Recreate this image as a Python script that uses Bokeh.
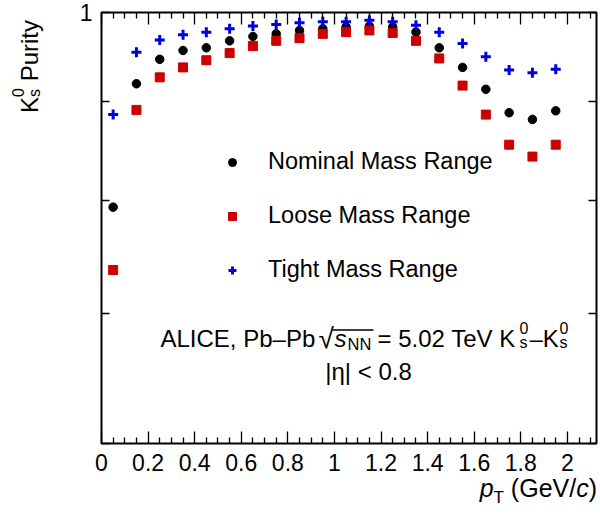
import math
from bokeh.plotting import figure
from bokeh.layouts import row, column
from bokeh.models import (Label, Legend, LegendItem, FixedTicker, LinearAxis, LogAxis,
                          CustomJSTickFormatter, Range1d, BoxAnnotation, Div)
from bokeh.embed import file_html
from bokeh.resources import INLINE

# ---------------- data ----------------
pt = [0.05, 0.15, 0.25, 0.35, 0.45, 0.55, 0.65, 0.75, 0.85, 0.95,
      1.05, 1.15, 1.25, 1.35, 1.45, 1.55, 1.65, 1.75, 1.85, 1.95]
nominal = [0.794, 0.919, 0.946, 0.956, 0.959, 0.967, 0.972, 0.975, 0.979, 0.981,
           0.983, 0.984, 0.983, 0.977, 0.959, 0.937, 0.913, 0.888, 0.881, 0.890]
loose = [0.737, 0.891, 0.926, 0.937, 0.945, 0.953, 0.961, 0.967, 0.970, 0.975,
         0.977, 0.979, 0.976, 0.967, 0.947, 0.917, 0.886, 0.855, 0.843, 0.855]
tight = [0.886, 0.954, 0.968, 0.974, 0.977, 0.981, 0.984, 0.986, 0.988, 0.989,
         0.989, 0.991, 0.989, 0.985, 0.977, 0.964, 0.949, 0.934, 0.931, 0.935]
series_names = ["Nominal Mass Range", "Loose Mass Range", "Tight Mass Range"]
x_major_ticks = [0, 0.2, 0.4, 0.6, 0.8, 1.0, 1.2, 1.4, 1.6, 1.8, 2.0]
x_minor_ticks = [round(0.05 * i, 2) for i in range(0, 43) if i % 4 != 0]
y_ticks = [0.6, 0.7, 0.8, 0.9, 1.0]

X0, X1 = 0.0, 2.125
Y0, Y1 = 0.6, 1.0

FONT = "Liberation Sans"

YDIV_W = 60
P_W, P_H = 600 - YDIV_W, 478
XDIV_H = 516 - P_H

p = figure(width=P_W, height=P_H, x_range=Range1d(X0, X1), y_range=Range1d(Y0, Y1),
           y_axis_type="log", output_backend="svg", toolbar_location=None,
           min_border_left=101 - YDIV_W, min_border_right=4, min_border_top=12,
           min_border_bottom=35)
p.background_fill_color = "white"
p.border_fill_color = "white"
p.outline_line_color = "black"
p.outline_line_width = 2
p.grid.visible = False

# frame geometry in page pixels (used only to place annotation texts)
FL, FR, FT, FB = 101.0, 596.0, 12.0, 443.0
LB = math.log10(Y0)


def X(px):
    return X0 + (px - FL) / (FR - FL) * (X1 - X0)


def Y(py):
    return 10 ** (LB * (py - FT) / (FB - FT))


xt = FixedTicker(ticks=x_major_ticks, minor_ticks=x_minor_ticks)
yt = FixedTicker(ticks=y_ticks, minor_ticks=[])
ylab = CustomJSTickFormatter(code="return Math.abs(tick - 1) < 1e-6 ? '1' : '';")
blank = CustomJSTickFormatter(code="return '';")


def style_axis(ax, major_len, minor_len, show_labels):
    ax.axis_line_color = None
    ax.major_tick_in = major_len
    ax.major_tick_out = 0
    ax.minor_tick_in = minor_len
    ax.minor_tick_out = 0
    ax.major_tick_line_width = 1.3
    ax.minor_tick_line_width = 1.3
    ax.major_label_text_font = FONT
    ax.major_label_text_font_size = "23px" if show_labels else "0px"
    ax.major_label_text_color = "black"
    if not show_labels:
        ax.major_label_standoff = 0
        ax.axis_label_standoff = 0


bx = p.xaxis[0]
bx.ticker = xt
style_axis(bx, 12, 6, True)
bx.major_label_standoff = 10
bx.major_label_overrides = {0: "0", 1: "1", 2: "2"}

ly = p.yaxis[0]
ly.ticker = yt
ly.formatter = ylab
style_axis(ly, 8, 0, True)
ly.minor_tick_line_color = None
ly.major_label_standoff = 9

tx = LinearAxis(ticker=xt, formatter=blank)
style_axis(tx, 12, 6, False)
p.add_layout(tx, "above")
ry = LogAxis(ticker=yt, formatter=blank)
style_axis(ry, 8, 0, False)
ry.minor_tick_line_color = None
p.add_layout(ry, "right")

# data
r_nom = p.scatter(pt, nominal, marker="circle", size=8.5, color="black")
r_loose = p.scatter(pt, loose, marker="square", size=9, color="#cc0000")
r_tight = p.scatter(pt, tight, marker="cross", size=10, line_width=3, color="#0000dd")

legend = Legend(items=[LegendItem(label=series_names[0], renderers=[r_nom]),
                       LegendItem(label=series_names[1], renderers=[r_loose]),
                       LegendItem(label=series_names[2], renderers=[r_tight])],
                location=(121, 160), orientation="vertical")
legend.background_fill_alpha = 0
legend.border_line_color = None
legend.padding = 0
legend.margin = 0
legend.glyph_width = 20
legend.glyph_height = 20
legend.label_height = 26
legend.spacing = 27
legend.label_standoff = 26
legend.label_text_font = FONT
legend.label_text_font_size = "23.5px"
legend.label_text_color = "black"
p.add_layout(legend, "center")


def txt(px, py, s, size=24, style="normal", align="left"):
    # py is the wanted baseline (page px); rendered text sits ~0.33em lower
    p.add_layout(Label(x=X(px), y=Y(py - 0.33 * size), text=s, text_font=FONT,
                       text_font_size=f"{size}px", text_font_style=style,
                       text_align=align, text_baseline="alphabetic", text_color="black"))


# ALICE caption
base = 346
txt(160, base, "ALICE, Pb\u2013Pb")
txt(318, base + 1, "\u221a", size=28)
p.add_layout(BoxAnnotation(left=X(332), right=X(373), top=Y(328.8), bottom=Y(330.2),
                           fill_color="black", fill_alpha=1, line_color=None))
txt(334, base, "s", style="italic")
txt(347, base + 3, "NN", size=16.5)
txt(377, base, "= 5.02 TeV K")
txt(519, base - 13, "0", size=16)
txt(519, base + 1, "s", size=16)
txt(529, base, "\u2013K")
txt(559, base - 13, "0", size=16)
txt(559, base + 1, "s", size=16)
txt(368, 379, "|\u03b7| < 0.8", align="center")

# axis titles as HTML text (sub/superscripts)
FONT_CSS = "font-family:'Liberation Sans',Arial,sans-serif;color:black;"
stack = ('<span style="position:relative;display:inline-block;width:9px;height:1px;">'
         '<span style="position:absolute;left:0;top:-26.5px;font-size:16px;line-height:1;">0</span>'
         '<span style="position:absolute;left:0;top:-10.5px;font-size:16px;line-height:1;">s</span>'
         '</span>')
ytitle_html = (
    f'<div style="position:relative;width:{YDIV_W}px;height:516px;">'
    f'<div style="position:absolute;left:17.7px;top:113px;transform-origin:left top;'
    f'transform:rotate(-90deg);white-space:nowrap;font-size:24px;line-height:1;{FONT_CSS}">'
    f'K{stack} Purity</div></div>')
ydiv = Div(text=ytitle_html, width=YDIV_W, height=516, margin=0)

xtitle_html = (
    f'<div style="position:relative;width:{P_W}px;height:{XDIV_H}px;">'
    f'<div style="position:absolute;right:3px;top:-2px;white-space:nowrap;font-size:25px;'
    f'line-height:1;{FONT_CSS}"><i>p</i>'
    f'<span style="font-size:17px;line-height:0;vertical-align:-6px;">T</span>'
    f' (GeV/<i>c</i>)</div></div>')
xdiv = Div(text=xtitle_html, width=P_W, height=XDIV_H, margin=0)

layout = row(ydiv, column(p, xdiv, spacing=0), spacing=0)

open("out.html", "w").write(file_html(layout, INLINE))
